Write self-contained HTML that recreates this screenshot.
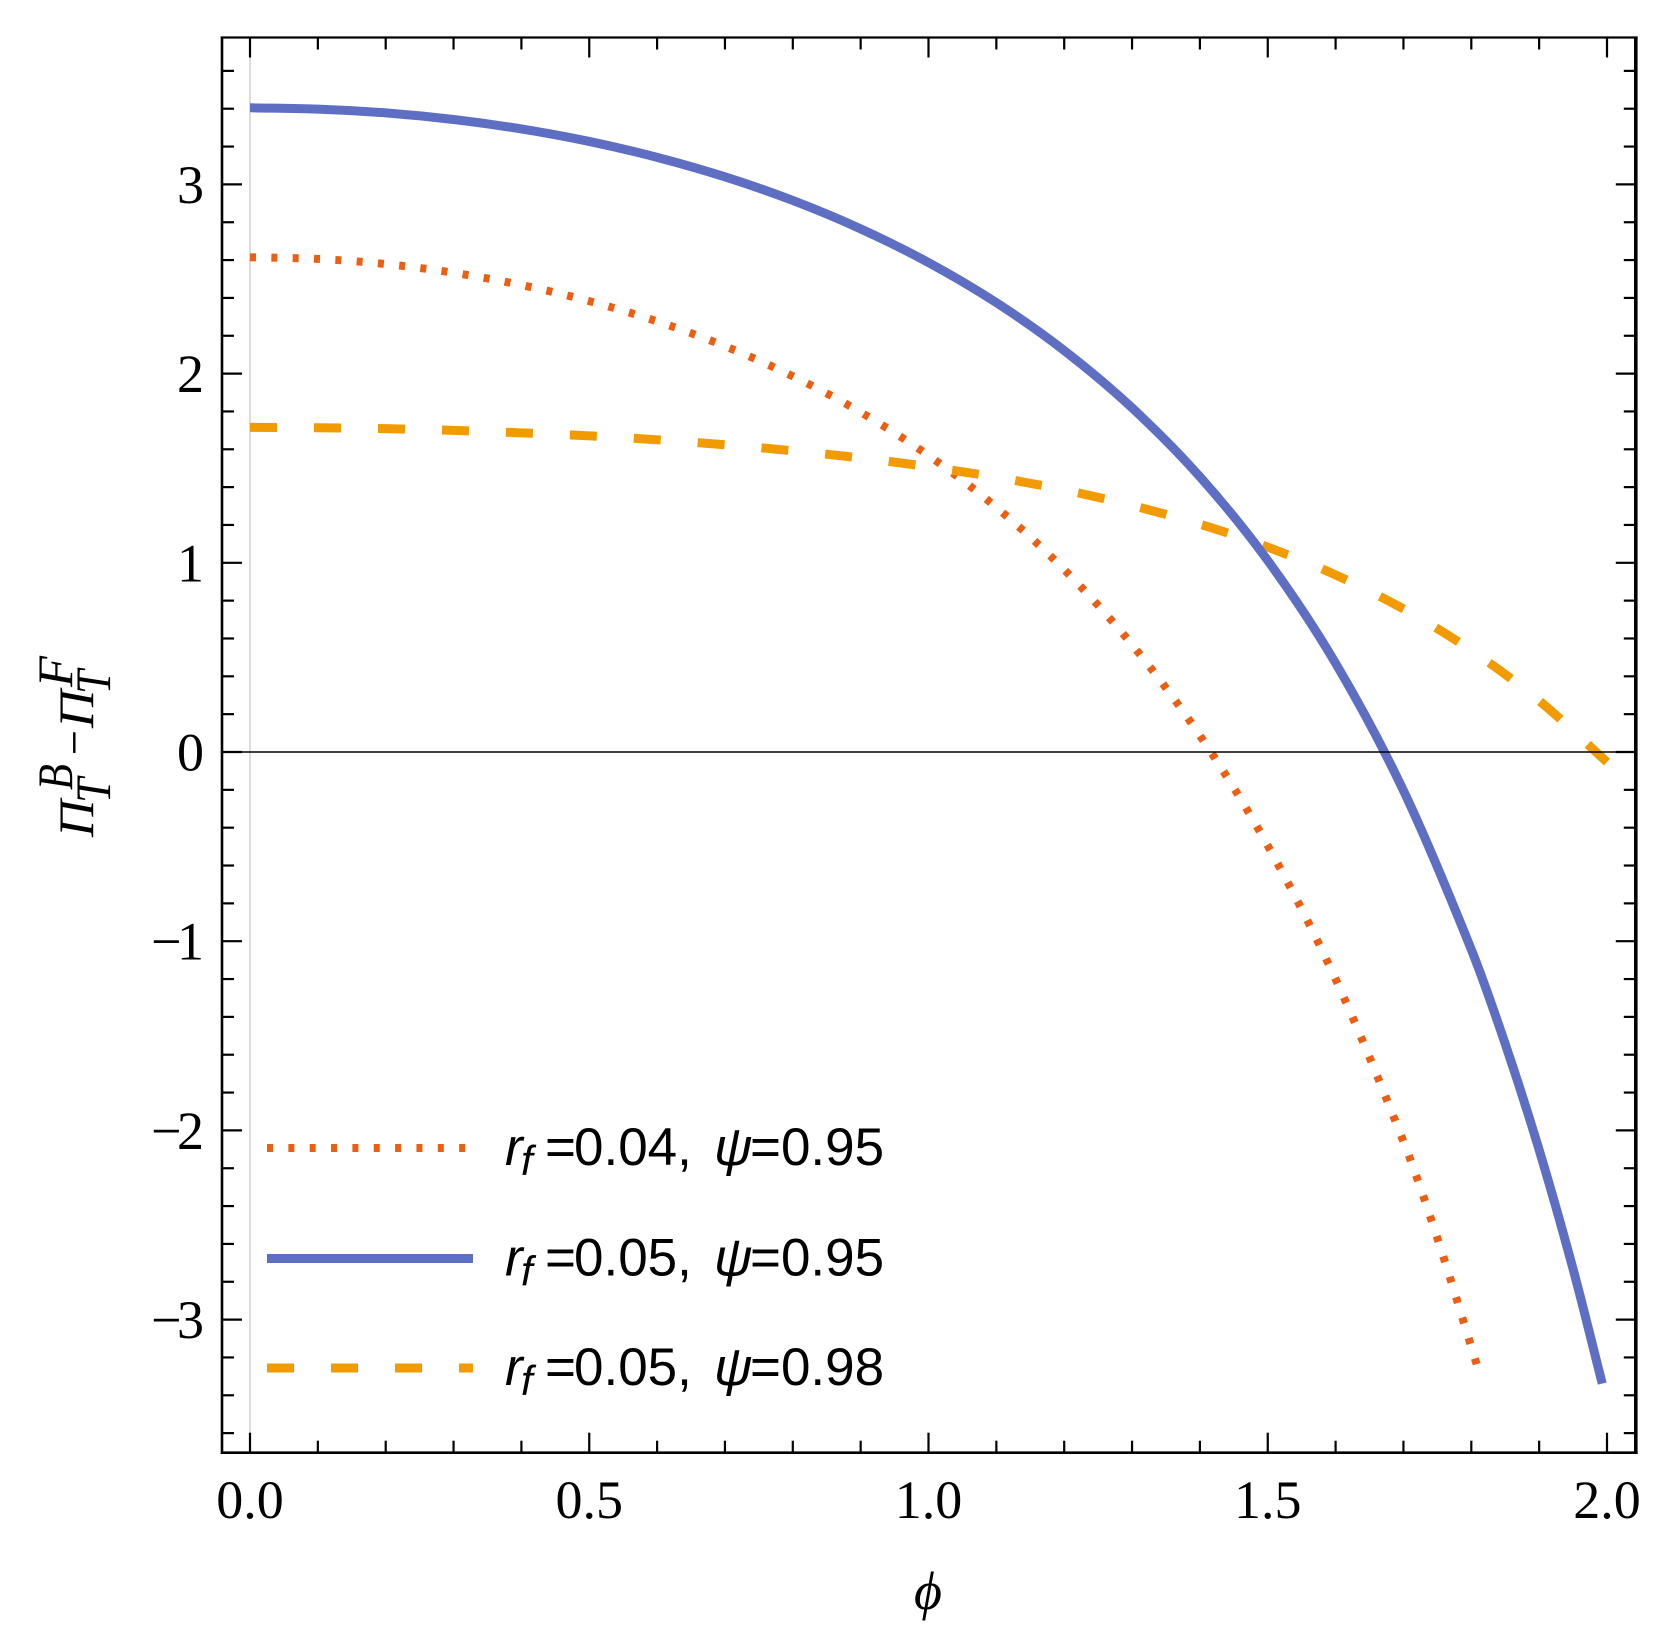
<!DOCTYPE html>
<html lang="en">
<head>
<meta charset="utf-8">
<title>Pi difference vs phi</title>
<style>
html,body{margin:0;padding:0;background:#fff;width:1673px;height:1648px;overflow:hidden}
svg{display:block}
text{fill:#000}
.serif{font-family:"Liberation Serif",serif}
.sans{font-family:"Liberation Sans",sans-serif}
</style>
</head>
<body>
<svg id="chart" xmlns="http://www.w3.org/2000/svg" width="1673" height="1648" viewBox="0 0 1673 1648"></svg>
<script>
// ---- chart data ----
const xMajorTicks = [0, 0.5, 1, 1.5, 2];
const xMinorTicks = [0.1, 0.2, 0.3, 0.4, 0.6, 0.7, 0.8, 0.9, 1.1, 1.2, 1.3, 1.4, 1.6, 1.7, 1.8, 1.9];
const xTickLabels = ["0.0", "0.5", "1.0", "1.5", "2.0"];
const yMajorTicks = [-3, -2, -1, 0, 1, 2, 3];
const yMinorTicks = [-3.6, -3.4, -3.2, -2.8, -2.6, -2.4, -2.2, -1.8, -1.6, -1.4, -1.2, -0.8, -0.6, -0.4, -0.2, 0.2, 0.4, 0.6, 0.8, 1.2, 1.4, 1.6, 1.8, 2.2, 2.4, 2.6, 2.8, 3.2, 3.4, 3.6];
const yTickLabels = ["\u22123", "\u22122", "\u22121", "0", "1", "2", "3"];

const dottedPhi = [0, 0.1, 0.2, 0.3, 0.4, 0.5, 0.6, 0.7, 0.8, 0.9, 1.0, 1.1, 1.2, 1.3, 1.4, 1.5, 1.6, 1.7, 1.75, 1.81];
const dottedVal = [2.615, 2.606, 2.579, 2.533, 2.468, 2.383, 2.276, 2.145, 1.986, 1.796, 1.567, 1.293, 0.964, 0.567, 0.087, -0.495, -1.201, -2.059, -2.57, -3.26];

const solidPhi = [0, 0.1, 0.2, 0.3, 0.4, 0.5, 0.6, 0.7, 0.8, 0.9, 1.0, 1.1, 1.2, 1.3, 1.4, 1.5, 1.6, 1.7, 1.8, 1.85, 1.9, 1.95, 1.993];
const solidVal = [3.405, 3.398, 3.378, 3.343, 3.293, 3.227, 3.143, 3.04, 2.915, 2.765, 2.587, 2.375, 2.122, 1.819, 1.455, 1.012, 0.469, -0.204, -1.044, -1.543, -2.103, -2.733, -3.338];

const dashedPhi = [0, 0.1, 0.2, 0.3, 0.4, 0.5, 0.6, 0.7, 0.8, 0.9, 1.0, 1.1, 1.2, 1.3, 1.4, 1.5, 1.6, 1.7, 1.8, 1.9, 2.0];
const dashedVal = [1.716, 1.714, 1.709, 1.70, 1.687, 1.671, 1.65, 1.624, 1.592, 1.554, 1.508, 1.452, 1.385, 1.303, 1.204, 1.083, 0.936, 0.756, 0.537, 0.271, -0.053];

// ---- axis functions ----
const xScale = v => 250 + 678.5 * v;
const yScale = v => 752 - 189.2 * v;

const frame = { left: 222, right: 1635.8, top: 37.5, bottom: 1452.7 };
const NS = 'http://www.w3.org/2000/svg';
const svg = document.getElementById('chart');

function mk(tag, attrs, parent) {
  const el = document.createElementNS(NS, tag);
  for (const k in attrs) el.setAttribute(k, attrs[k]);
  (parent || svg).appendChild(el);
  return el;
}

// Hermite curve through the points, with slopes that respect uneven x spacing
function smoothPath(xs, ys) {
  const p = xs.map((x, i) => [xScale(x), yScale(ys[i])]);
  const n = p.length;
  const slope = i => {
    const a = p[Math.max(i - 1, 0)], b = p[Math.min(i + 1, n - 1)];
    return (b[1] - a[1]) / (b[0] - a[0]);
  };
  let d = 'M' + p[0][0].toFixed(2) + ' ' + p[0][1].toFixed(2);
  for (let i = 0; i < n - 1; i++) {
    const h = (p[i + 1][0] - p[i][0]) / 3;
    const c = [p[i][0] + h, p[i][1] + slope(i) * h, p[i + 1][0] - h, p[i + 1][1] - slope(i + 1) * h, p[i + 1][0], p[i + 1][1]];
    d += 'C' + c.map(v => v.toFixed(2)).join(' ');
  }
  return d;
}

// background reference lines
const yAxisLine = mk('line', { x1: xScale(0), x2: xScale(0), y1: frame.top, y2: frame.bottom, stroke: '#c9c9c9', 'stroke-width': 1.3 });



// series
const dottedCurve = mk('path', { d: smoothPath(dottedPhi, dottedVal), fill: 'none', stroke: '#EC5F12', 'stroke-width': 8, 'stroke-dasharray': '6 15.35' });



const dashedCurve = mk('path', { d: smoothPath(dashedPhi, dashedVal), fill: 'none', stroke: '#F29B00', 'stroke-width': 9, 'stroke-dasharray': '27 37' });



const solidCurve = mk('path', { d: smoothPath(solidPhi, solidVal), fill: 'none', stroke: '#5E6FC3', 'stroke-width': 9 });



// zero line
const zeroLine = mk('line', { x1: frame.left, x2: frame.right, y1: yScale(0), y2: yScale(0), stroke: '#000', 'stroke-width': 1.6 });



// ticks
function xTick(v, len, name) {
  const x = xScale(v);
  const b = mk('line', { x1: x, x2: x, y1: frame.bottom, y2: frame.bottom - len, stroke: '#000', 'stroke-width': 2.2 });
  
  
  const t = mk('line', { x1: x, x2: x, y1: frame.top, y2: frame.top + len, stroke: '#000', 'stroke-width': 2.2 });
  
  
}
function yTick(v, len, name) {
  const y = yScale(v);
  const l = mk('line', { x1: frame.left, x2: frame.left + len, y1: y, y2: y, stroke: '#000', 'stroke-width': 2.2 });
  
  
  const r = mk('line', { x1: frame.right, x2: frame.right - len, y1: y, y2: y, stroke: '#000', 'stroke-width': 2.2 });
  
  
}
xMajorTicks.forEach(v => xTick(v, 20, 'major-' + v));
xMinorTicks.forEach(v => xTick(v, 12, 'minor-' + v));
yMajorTicks.forEach(v => yTick(v, 20, 'major-' + v));
yMinorTicks.forEach(v => yTick(v, 12, 'minor-' + v));

// frame
const frameTop = mk('line', { x1: frame.left - 1.2, x2: frame.right + 1.8, y1: frame.top, y2: frame.top, stroke: '#000', 'stroke-width': 2.2 });


const frameBottom = mk('line', { x1: frame.left - 1.2, x2: frame.right + 1.8, y1: frame.bottom, y2: frame.bottom, stroke: '#000', 'stroke-width': 2.6 });


const frameLeft = mk('line', { x1: frame.left, x2: frame.left, y1: frame.top - 1, y2: frame.bottom + 1.3, stroke: '#000', 'stroke-width': 2.6 });


const frameRight = mk('line', { x1: frame.right, x2: frame.right, y1: frame.top - 1, y2: frame.bottom + 1.3, stroke: '#000', 'stroke-width': 3.6 });



// tick labels
xMajorTicks.forEach((v, i) => {
  const t = mk('text', { x: xScale(v), y: 1518, class: 'serif', 'font-size': 54, 'text-anchor': 'middle' });
  t.textContent = xTickLabels[i];
  
  
});
yMajorTicks.forEach((v, i) => {
  const attrs = { x: 204, y: yScale(v) + 18.5, class: 'serif', 'font-size': 54, 'text-anchor': 'end' };
  if (v < 0) { attrs.textLength = 53; attrs.lengthAdjust = 'spacing'; }
  const t = mk('text', attrs);
  t.textContent = yTickLabels[i];
  
  
});

// ---- axis titles ----
const phiTitle = mk('text', { x: 928, y: 1609, class: 'serif', 'font-size': 54, 'font-style': 'italic', 'text-anchor': 'middle' });
phiTitle.textContent = '\u03D5';



const yTitle = mk('g', { transform: 'translate(93,837) rotate(-90)', class: 'serif', 'font-size': 50, 'font-style': 'italic' });


[
  ['\u03A0', 0, 0, 37],
  ['T', 34, 17, 25],
  ['B', 47, -21, 26],
  ['\u2212', 79, -2, 30],
  ['\u03A0', 109, 0, 38],
  ['T', 143, 17, 24],
  ['F', 150, -21, 31]
].forEach(p => {
  const t = mk('text', { x: p[1], y: p[2], textLength: p[3], lengthAdjust: 'spacingAndGlyphs' }, yTitle);
  t.textContent = p[0];
  
  
});

// ---- legend ----
[
  { cy: 1148, color: '#EC5F12', w: 8, dash: '6 15.35', a: '0.04', b: '0.95', end: 468 },
  { cy: 1258.5, color: '#5E6FC3', w: 9, dash: 'none', a: '0.05', b: '0.95', end: 473 },
  { cy: 1368, color: '#F29B00', w: 9, dash: '27 37', a: '0.05', b: '0.98', end: 473 }
].forEach(r => {
  const row = mk('g', {});
  
  
  const line = mk('line', { x1: 267, x2: r.end, y1: r.cy, y2: r.cy, stroke: r.color, 'stroke-width': r.w, 'stroke-dasharray': r.dash }, row);
  
  
  const base = r.cy + 17;
  [
    ['r', 505, base, 53, 'italic'],
    ['f', 521, base + 10, 42, 'italic'],
    ['=', 545, base, 53, 'normal'],
    [r.a + ',', 574, base, 53, 'normal'],
    ['\u03C8', 714, base, 53, 'italic'],
    ['=' + r.b, 750, base, 53, 'normal']
  ].forEach(p => {
    const t = mk('text', { x: p[1], y: p[2], class: 'sans', 'font-size': p[3], 'font-style': p[4] }, row);
    t.textContent = p[0];
    
    
  });
});
</script>
</body>
</html>
